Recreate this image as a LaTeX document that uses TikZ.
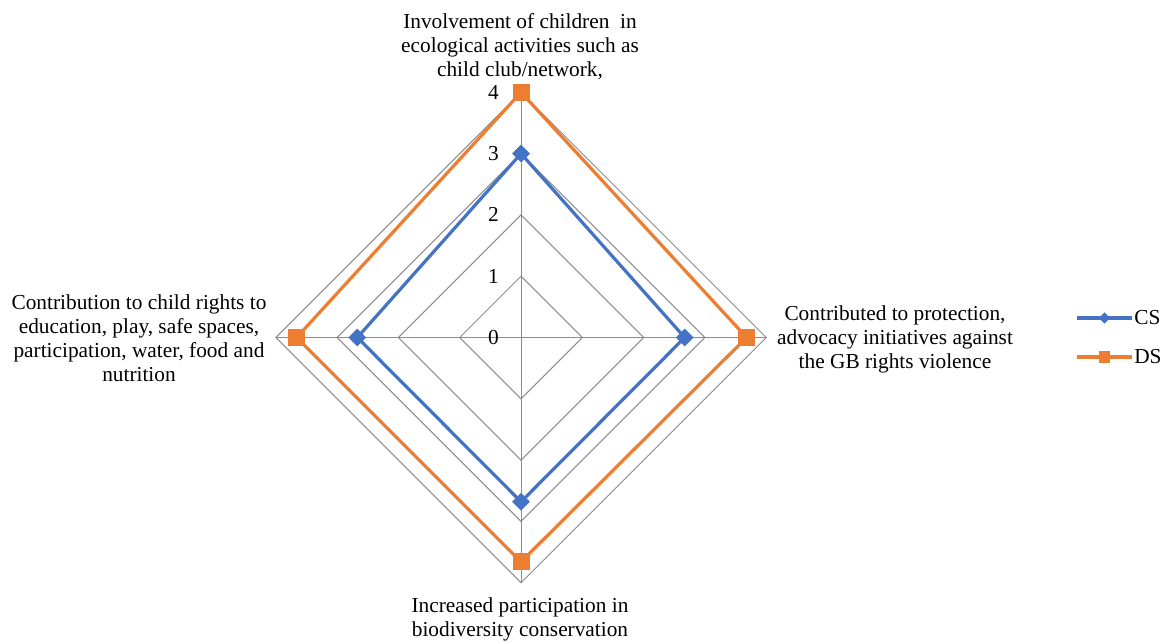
\documentclass[tikz,border=0pt]{standalone}
\usepackage{fontspec}
\setmainfont{Liberation Serif}
\usetikzlibrary{shapes.geometric,calc}

\definecolor{csblue}{HTML}{4472C4}
\definecolor{dsorange}{HTML}{ED7D31}
\definecolor{gridgray}{HTML}{8C8C8C}

\begin{document}
\begin{tikzpicture}[
  x=0.75pt, y=-0.75pt,
  font=\fontsize{16}{18}\selectfont,
  grid/.style={draw=gridgray, line width=0.75pt},
  series/.style={line width=2.4pt, line join=miter},
  cs/.style={series, draw=csblue},
  ds/.style={series, draw=dsorange},
  csmark/.style={diamond, fill=csblue, inner sep=0pt, minimum size=13.5pt},
  dsmark/.style={rectangle, fill=dsorange, inner sep=0pt, minimum size=12.75pt},
  cskey/.style={csmark, minimum size=8.5pt},
  dskey/.style={dsmark, minimum size=8.5pt},
  axlabel/.style={align=center, inner sep=0pt},
  tick/.style={anchor=east, inner sep=0pt},
]
\useasboundingbox (0,0) rectangle (1169,642);
\def\r{61.3}

\begin{scope}[shift={(521,337.5)}]
  % grid and spokes
  \foreach \lv in {1,...,4}
    \draw[grid] (0,-\lv*\r) -- (\lv*\r,0) -- (0,\lv*\r) -- (-\lv*\r,0) -- cycle;
  \draw[grid] (0,-4*\r) -- (0,4*\r);
  \draw[grid] (-4*\r,0) -- (4*\r,0);

  % values
  \coordinate (cs-top) at (0,-3*\r);
  \coordinate (cs-right) at (2.67*\r,0);
  \coordinate (cs-bottom) at (0,2.68*\r);
  \coordinate (cs-left) at (-2.67*\r,0);
  \coordinate (ds-top) at (0,-4*\r);
  \coordinate (ds-right) at (3.68*\r,0);
  \coordinate (ds-bottom) at (0,3.66*\r);
  \coordinate (ds-left) at (-3.66*\r,0);

  \draw[cs] (cs-top) -- (cs-right) -- (cs-bottom) -- (cs-left) -- cycle;
  \draw[ds] (ds-top) -- (ds-right) -- (ds-bottom) -- (ds-left) -- cycle;
  \foreach \p in {top,right,bottom,left} {
    \node[csmark] (csm-\p) at (cs-\p) {};
    \node[dsmark] (dsm-\p) at (ds-\p) {};
  }

  % scale
  \foreach \v in {0,...,4}
    \node[tick] (tick-\v) at (-22,-\v*\r) {\v};
\end{scope}

% category labels
\node[axlabel] (lab-top) at (520,47) {Involvement of children\ \ in\\ecological activities such as\\child club/network,};
\node[axlabel] (lab-right) at (895,339) {Contributed to protection,\\advocacy initiatives against\\the GB rights violence};
\node[axlabel] (lab-bottom) at (520,619) {Increased participation in\\biodiversity conservation};
\node[axlabel] (lab-left) at (139,338) {Contribution to child rights to\\education, play, safe spaces,\\participation, water, food and\\nutrition};

% legend
\coordinate (cs-a) at (1077,318);
\coordinate (cs-b) at (1132,318);
\coordinate (ds-a) at (1077,357);
\coordinate (ds-b) at (1132,357);
\draw[cs] (cs-a) -- (cs-b);
\draw[ds] (ds-a) -- (ds-b);
\node[cskey] (cs-key) at ($(cs-a)!0.5!(cs-b)$) {};
\node[dskey] (ds-key) at ($(ds-a)!0.5!(ds-b)$) {};
\node[anchor=west, inner sep=0pt] (cs-name) at (1134,318) {CS};
\node[anchor=west, inner sep=0pt] (ds-name) at (1134,357) {DS};
\end{tikzpicture}
\end{document}
